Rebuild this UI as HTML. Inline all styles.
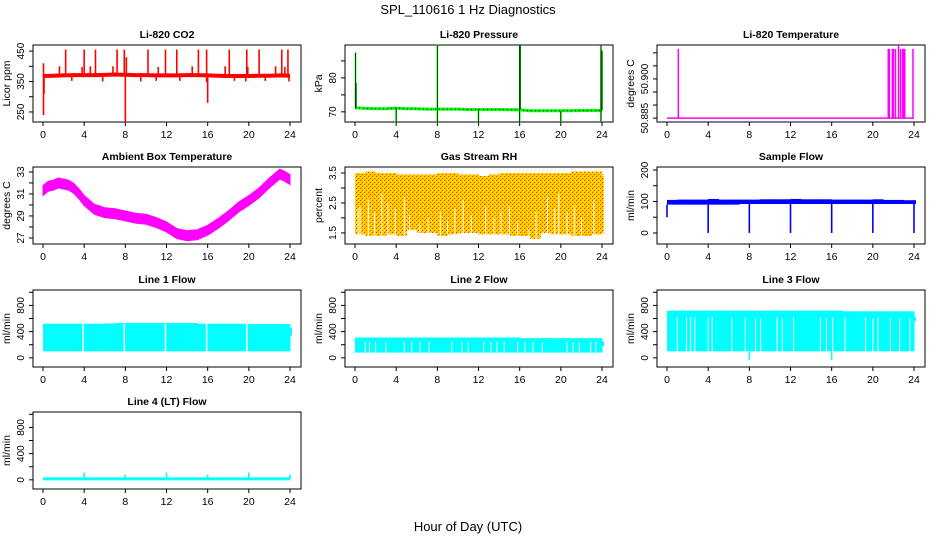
<!DOCTYPE html>
<html><head><meta charset="utf-8"><style>
body{margin:0;background:#fff}
svg{display:block;font-family:"Liberation Sans",Arial,sans-serif}
</style></head><body>
<svg id="c" width="936" height="540" viewBox="0 0 936 540">
<defs>
<pattern id="rhpat" width="4" height="4" patternUnits="userSpaceOnUse">
<rect width="4" height="4" fill="#ffd200"/>
<rect x="0" y="0" width="1" height="1" fill="#ff2000"/>
<rect x="2" y="2" width="1" height="1" fill="#ff2000"/>
<rect x="1" y="3" width="1" height="1" fill="#ffa000"/>
</pattern>
</defs>
<text x="468" y="14" font-size="13" text-anchor="middle">SPL_110616  1 Hz Diagnostics</text>
<text x="468" y="531" font-size="13" text-anchor="middle">Hour of Day (UTC)</text>
</svg>
<script>
// ---- data ----
const hours = [0,1,2,3,4,5,6,7,8,9,10,11,12,13,14,15,16,17,18,19,20,21,22,23,24];
const xTicks = [0,4,8,12,16,20,24];

const co2Base = [368,369,370,371,371,371,372,373,372,371,371,370,370,370,371,371,370,369,368,368,368,369,369,370,369];
const co2SpikeX = [2.2,4.0,5.1,7.2,7.9,10.2,11.9,13.0,15.1,15.9,18.1,19.8,21.0,23.2,23.8,1.6,3.8,4.6,6.8,8.1,11.2,14.5,17.7,19.9,22.6,23.5,0.05,0.05,0.1,2.8,5.8,8.0,9.5,11.0,13.3,16.0,15.9,18.6,19.7,21.6,23.9];
const co2SpikeY = [455,455,455,455,455,455,455,455,455,455,455,455,455,455,455,400,398,400,400,430,398,400,400,398,400,398,410,240,310,352,350,215,350,352,352,280,348,352,350,352,350];

const presBase = [71.2,71,70.9,70.9,71.1,70.9,70.9,70.8,70.8,70.8,70.8,70.7,70.7,70.7,70.7,70.6,70.6,70.3,70.3,70.3,70.3,70.3,70.4,70.4,70.4];
const presSpikeX = [0.05,0.1,8.0,16.0,16.05,23.9,24,4.0,8.0,12.0,16.0,20.0,23.9];
const presSpikeY = [87.5,78.5,89.8,89.5,89.5,89.5,88,66.5,66.8,66.5,66.8,66.5,67];

const tempBase = 50.885;
const tempSpikeX = [1.1,21.5,21.6,21.9,22.0,22.2,22.5,22.7,22.9,23.0,23.1,23.9];
const tempSpikeY = [50.9115,50.9115,50.9115,50.9115,50.9115,50.9115,50.913,50.9115,50.9115,50.9115,50.9115,50.9115];

const ambX = [0,0.5,1,1.5,2,2.5,3,3.5,4,4.5,5,6,7,8,9,10,11,12,13,14,15,16,17,18,19,20,21,22,23,23.5,24];
const ambMid = [31.3,31.7,31.8,32,31.9,31.8,31.5,31.0,30.4,30,29.6,29.3,29.2,29,28.8,28.7,28.4,28.0,27.4,27.2,27.3,27.7,28.3,29.0,29.8,30.4,31.1,32,32.8,32.6,32.3];

const rhHi = [3.5,3.55,3.5,3.5,3.45,3.45,3.45,3.45,3.5,3.5,3.45,3.45,3.4,3.45,3.5,3.5,3.5,3.5,3.5,3.5,3.5,3.55,3.55,3.55,3.4];
const rhLo = [1.45,1.4,1.4,1.45,1.4,1.6,1.5,1.5,1.4,1.45,1.5,1.5,1.45,1.45,1.45,1.4,1.4,1.3,1.5,1.45,1.45,1.4,1.4,1.45,1.5];
const rhGapX = [0.3,0.5,1.3,1.9,2.6,3.2,3.9,4.8,5.3,6.3,7.1,8.3,9.0,9.7,10.5,11.3,12.7,13.5,14.2,15.0,15.8,16.9,17.6,18.7,19.4,19.8,20.6,21.3,22.0,23.2];
const rhGapTop = [2.3,2.4,2.6,2.2,2.8,2.5,2.3,2.7,2.1,1.8,2.0,2.2,1.9,2.3,2.6,2.1,2.4,2.0,2.2,2.4,1.9,1.6,2.2,2.7,2.3,2.8,2.2,2.4,2.0,2.6];

const sfHi = [105,106,106,106,108,106,106,106,106,107,107,107,108,107,107,107,106,106,106,106,107,105,105,104,104];
const sfLo = [90,90,90,90,90,90,90,92,92,92,92,92,92,92,92,92,92,92,92,92,92,92,92,92,92];
const sfDipX = [0,4,8,12,16,20,24];
const sfDipY = [50,0,0,0,0,0,0];

const l1Hi = [520,520,520,520,520,520,525,530,530,530,530,530,530,530,530,520,520,520,520,520,515,515,515,515,460];
const l1Lo = [100,100,100,100,100,100,100,100,100,100,100,100,100,100,100,100,100,100,100,100,100,100,100,100,340];
const l1GapX = [3.9,7.9,11.9,15.9,19.8];
const l1GapTop = [520,520,520,520,520];

const l2Hi = [310,310,310,310,310,310,310,310,310,310,310,310,310,310,310,310,300,300,300,300,300,300,300,300,250];
const l2Lo = [80,80,80,80,80,80,80,80,80,80,80,80,80,80,80,80,80,80,80,80,80,80,80,80,180];
const l2GapX = [1.0,1.4,2.0,3.0,4.8,5.5,6.3,7.2,9.4,10.4,11.0,12.5,13.2,13.8,14.5,15.8,16.5,17.3,18.2,20.6,21.2,21.8,22.9,23.4];
const l2GapTop = [240,240,240,240,240,240,240,240,240,240,240,240,240,240,240,240,240,240,240,240,240,240,240,240];

const l3Hi = [720,720,720,720,720,720,720,720,720,720,720,720,720,720,720,720,720,710,710,710,710,710,710,710,620];
const l3Lo = [100,100,100,100,100,100,100,100,100,100,100,100,100,100,100,100,100,100,100,100,100,100,100,100,560];
const l3GapX = [1.0,1.9,2.3,2.7,4.0,4.4,6.3,7.6,8.6,9.1,10.7,11.2,12.3,14.9,15.5,16.1,17.3,19.3,20.0,20.5,21.7,22.6,23.6];
const l3GapTop = [620,620,620,620,620,620,620,620,600,600,620,600,620,620,600,620,620,620,600,620,600,600,600];
const l3DipX = [8,16];
const l3DipY = [-30,-30];

const l4Base = [15,15,15,15,15,15,15,15,15,15,15,15,15,15,15,15,15,15,15,15,15,15,15,15,15];
const l4SpikeX = [4,8,12,16,20,24];
const l4SpikeY = [110,80,110,80,110,80];

// ---- drawing ----
const svg = document.getElementById('c');
const NS = 'http://www.w3.org/2000/svg';
function mk(tag, a){const e=document.createElementNS(NS,tag);for(const k in a)e.setAttribute(k,a[k]);svg.appendChild(e);return e;}
const colX=[33,345,657], rowY=[45,167,290,412], W=268, H=77;

function panel(key,col,row,title,ylab,ymin,ymax,yt,ylabels){
  const x0=colX[col], y0=rowY[row];
  const sx=h=>x0+10+h*247/24;
  const sy=v=>y0+H-(v-ymin)/(ymax-ymin)*H;
  const t=mk('text',{x:x0+W/2,y:y0-7,'font-size':10.5,'font-weight':'bold','text-anchor':'middle'});
  t.textContent=title;
  
  
  const b=mk('rect',{x:x0,y:y0,width:W,height:H,fill:'none',stroke:'#000','stroke-width':1});
  
  
  xTicks.forEach(v=>{
    const tk=mk('line',{x1:sx(v),x2:sx(v),y1:y0+H,y2:y0+H+4,stroke:'#000'});
    
    
    const tl=mk('text',{x:sx(v),y:y0+H+16,'font-size':10.5,'text-anchor':'middle'});
    tl.textContent=v;
    
    
  });
  yt.forEach(v=>{
    const tk=mk('line',{x1:x0-4,x2:x0,y1:sy(v),y2:sy(v),stroke:'#000'});
    
    
  });
  ylabels.forEach(v=>{
    const yy=sy(v);
    const tl=mk('text',{x:x0-9,y:yy,'font-size':10,'text-anchor':'middle',transform:`rotate(-90 ${x0-9} ${yy})`});
    tl.textContent=v;
    
    
  });
  const ym=y0+H/2;
  const at=mk('text',{x:x0-23,y:ym,'font-size':10.5,'text-anchor':'middle',transform:`rotate(-90 ${x0-23} ${ym})`});
  at.textContent=ylab;
  
  
  return {sx,sy};
}
function polyline(key,xs,ys,sc,color,w,dash){
  const p=mk('polyline',{points:xs.map((x,i)=>sc.sx(x)+','+sc.sy(ys[i])).join(' '),fill:'none',stroke:color,'stroke-width':w});
  if(dash)p.setAttribute('stroke-dasharray',dash);
  
  
}
function band(key,xs,lo,hi,sc,fill){
  const pts=xs.map((x,i)=>sc.sx(x)+','+sc.sy(hi[i])).concat(xs.slice().reverse().map((x,j)=>{const i=xs.length-1-j;return sc.sx(x)+','+sc.sy(lo[i]);}));
  const p=mk('polygon',{points:pts.join(' '),fill:fill,stroke:fill,'stroke-width':1});
  
  
}
function stepBand(key,xs,lo,hi,sc,fill){
  const n=xs.length;
  for(let i=0;i<n;i++){
    const xa=sc.sx(xs[i]);
    const xb=i<n-1?sc.sx(xs[i+1])+0.5:xa+2;
    const xs0=i<n-1?xa:xa-1;
    const r=mk('rect',{x:xs0,y:sc.sy(hi[i]),width:xb-xs0,height:sc.sy(lo[i])-sc.sy(hi[i]),fill:fill});
    
    
  }
}
function vlines(key,xs,y1s,y2s,sc,color,w){
  xs.forEach((x,i)=>{
    const y1=Array.isArray(y1s)?y1s[i]:y1s;
    const l=mk('line',{x1:sc.sx(x),x2:sc.sx(x),y1:sc.sy(y1),y2:sc.sy(y2s[i]),stroke:color,'stroke-width':w});
    
    
  });
}
function baseAt(arr,x){const i=Math.min(arr.length-1,Math.floor(x));return arr[i];}

// CO2
let s=panel('co2',0,0,'Li-820 CO2','Licor ppm',217,470,[250,300,350,400,450],[250,350,450]);
polyline('co2-baseline',hours,co2Base,s,'#ff0000',4);
vlines('co2-spike',co2SpikeX,co2SpikeX.map(x=>baseAt(co2Base,x)),co2SpikeY,s,'#ff0000',1.6);

// Pressure
s=panel('pressure',1,0,'Li-820 Pressure','kPa',67,89.7,[70,75,80,85],[70,80]);
polyline('pressure-baseline',hours,presBase,s,'#00ff00',3);
vlines('pressure-spike',presSpikeX,presSpikeX.map(x=>baseAt(presBase,x)),presSpikeY,s,'#00ff00',1.6);
polyline('pressure-overlay',hours,presBase,s,'#000',1,'1,3');
vlines('pressure-spike-overlay',presSpikeX,presSpikeX.map(x=>baseAt(presBase,x)),presSpikeY,s,'#000',0.7,'1,2');

// Temperature
s=panel('li820-temp',2,0,'Li-820 Temperature','degrees C',50.8835,50.913,[50.885,50.89,50.895,50.9,50.905,50.91],['50.885','50.900']);
polyline('li820-temp-baseline',[0,24],[tempBase,tempBase],s,'#ff00ff',1.5);
vlines('li820-temp-spike',tempSpikeX,tempBase,tempSpikeY,s,'#ff00ff',1.5);

// Ambient
s=panel('ambient',0,1,'Ambient Box Temperature','degrees C',26.45,33.45,[27,28,29,30,31,32,33],[27,29,31,33]);
band('ambient-band',ambX,ambMid.map(v=>v-0.45),ambMid.map(v=>v+0.45),s,'#ff00ff');

// RH
s=panel('rh',1,1,'Gas Stream RH','percent',1.13,3.7,[1.5,2,2.5,3,3.5],[1.5,2.5,3.5]);
stepBand('rh-band',hours,rhLo,rhHi,s,'url(#rhpat)');
vlines('rh-gap',rhGapX,rhGapX.map(x=>baseAt(rhLo,x)),rhGapTop,s,'#ffffff',1);

// Sample flow
s=panel('sample-flow',2,1,'Sample Flow','ml/min',-35,209.5,[0,50,100,150,200],[0,100,200]);
stepBand('sample-flow-band',hours,sfLo,sfHi,s,'#0000ff');
vlines('sample-flow-dip',sfDipX,sfDipX.map(x=>baseAt(sfLo,x)),sfDipY,s,'#0000ff',1.6);

const fT=[0,200,400,600,800,1000], fL=[0,400,800];
// Line 1
s=panel('line1-flow',0,2,'Line 1 Flow','ml/min',-140,1035,fT,fL);
stepBand('line1-band',hours,l1Lo,l1Hi,s,'#00ffff');
vlines('line1-gap',l1GapX,l1GapX.map(x=>baseAt(l1Lo,x)),l1GapTop,s,'#ffffff',1.5);
// Line 2
s=panel('line2-flow',1,2,'Line 2 Flow','ml/min',-140,1035,fT,fL);
stepBand('line2-band',hours,l2Lo,l2Hi,s,'#00ffff');
vlines('line2-gap',l2GapX,l2GapX.map(x=>baseAt(l2Lo,x)),l2GapTop,s,'#ffffff',1);
// Line 3
s=panel('line3-flow',2,2,'Line 3 Flow','ml/min',-140,1035,fT,fL);
stepBand('line3-band',hours,l3Lo,l3Hi,s,'#00ffff');
vlines('line3-gap',l3GapX,l3GapX.map(x=>baseAt(l3Lo,x)),l3GapTop,s,'#ffffff',1);
vlines('line3-dip',l3DipX,l3DipX.map(x=>baseAt(l3Lo,x)),l3DipY,s,'#00ffff',1.5);
// Line 4
s=panel('line4-flow',0,3,'Line 4 (LT) Flow','ml/min',-140,1035,fT,fL);
polyline('line4-baseline',hours,l4Base,s,'#00ffff',3);
vlines('line4-spike',l4SpikeX,l4SpikeX.map(x=>baseAt(l4Base,x)),l4SpikeY,s,'#00ffff',1.6);
</script>
</body></html>
